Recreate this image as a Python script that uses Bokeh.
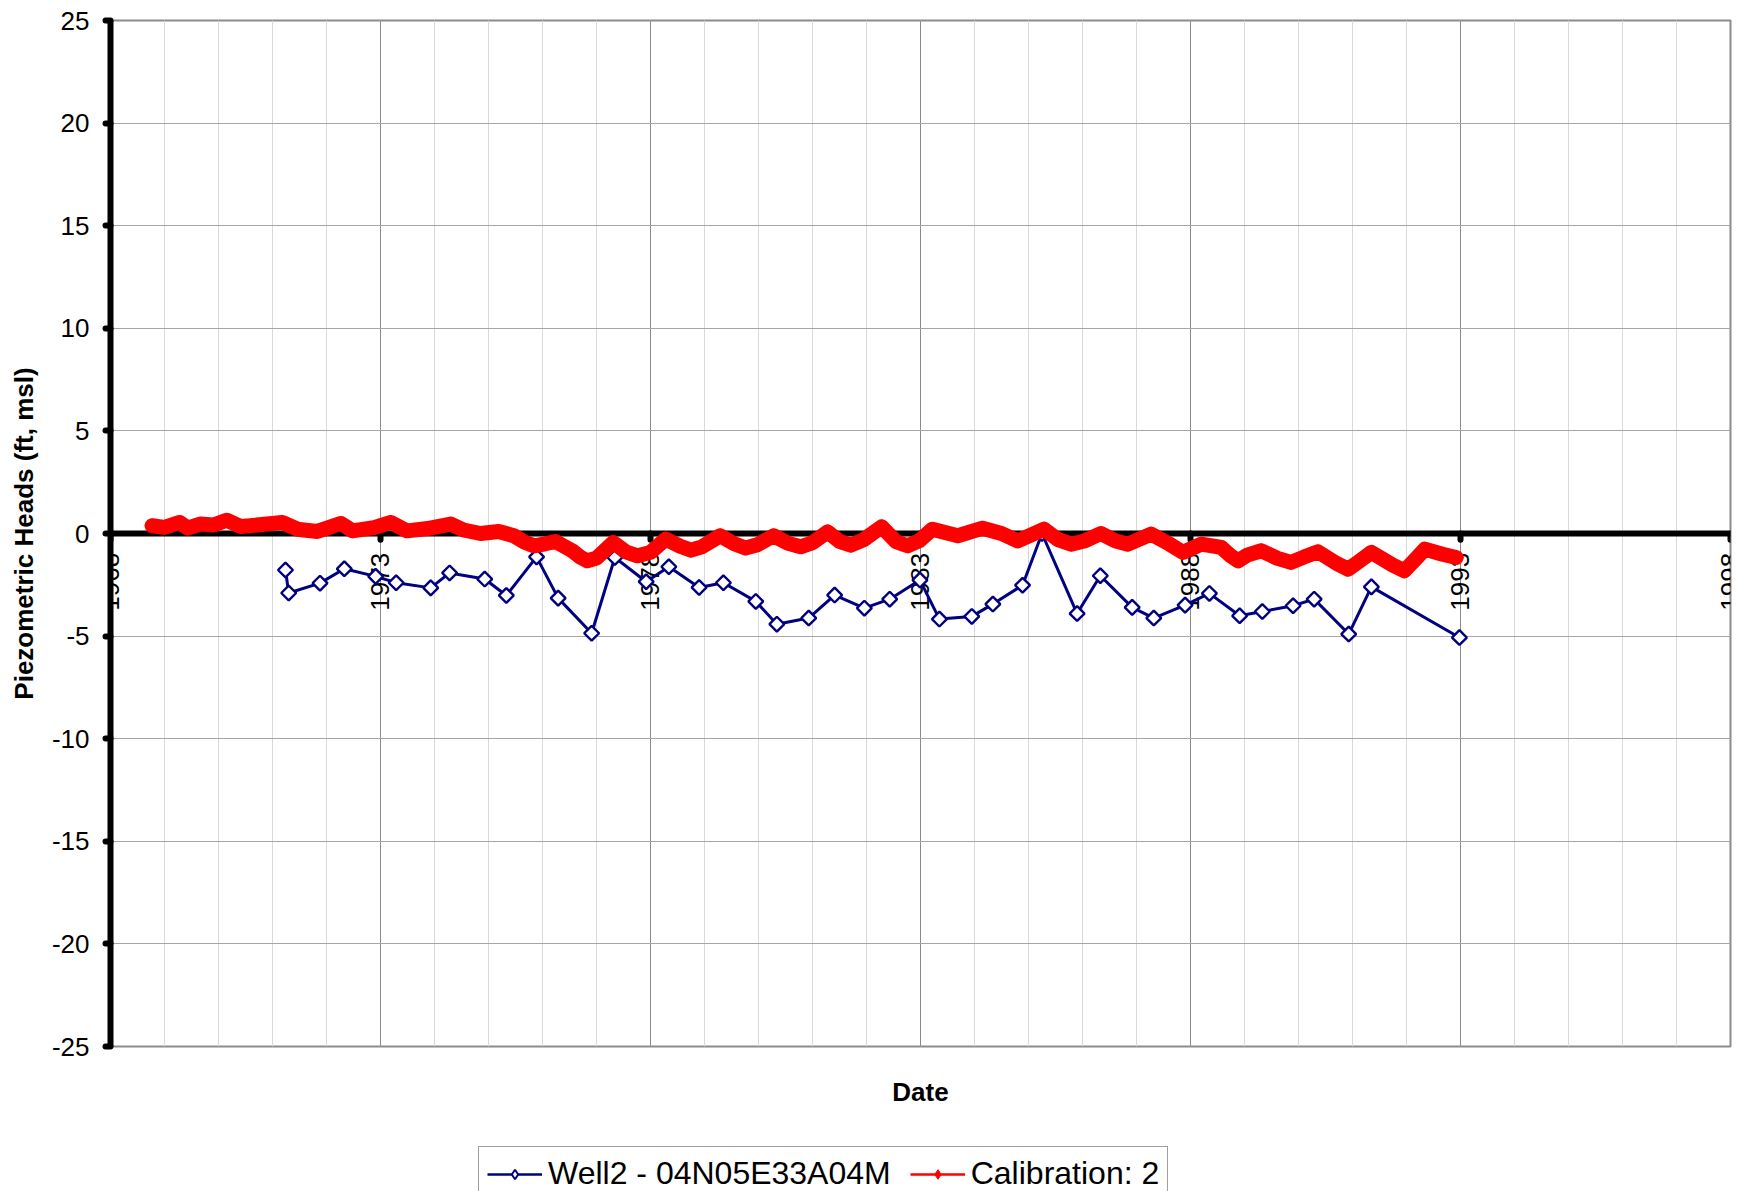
import numpy as np
from bokeh.plotting import figure
from bokeh.layouts import column
from bokeh.models import (FixedTicker, Span, Legend, LegendItem, Range1d, LabelSet,
                          ColumnDataSource)
from bokeh.core.properties import value
from bokeh.embed import file_html
from bokeh.resources import INLINE

# ---------------- data ----------------
well_years = [1971.24, 1971.30, 1971.88, 1972.33, 1972.91, 1973.29, 1973.93, 1974.28,
              1974.93, 1975.33, 1975.89, 1976.29, 1976.91, 1977.34, 1977.92, 1978.34,
              1978.90, 1979.35, 1979.95, 1980.34, 1980.93, 1981.41, 1981.96, 1982.43,
              1982.99, 1983.35, 1983.95, 1984.34, 1984.89, 1985.25, 1985.90, 1986.33,
              1986.92, 1987.32, 1987.90, 1988.35, 1988.91, 1989.33, 1989.90, 1990.29,
              1990.93, 1991.35, 1992.98]
well_heads = [-1.78, -2.90, -2.42, -1.72, -2.09, -2.40, -2.65, -1.92,
              -2.22, -3.02, -1.14, -3.15, -4.86, -1.17, -2.35, -1.62,
              -2.63, -2.40, -3.31, -4.42, -4.12, -3.00, -3.64, -3.20,
              -2.27, -4.17, -4.04, -3.44, -2.52, 0.00, -3.90, -2.06,
              -3.60, -4.12, -3.49, -2.92, -4.01, -3.80, -3.52, -3.20,
              -4.90, -2.60, -5.07]

cal_years = [1968.77, 1969.00, 1969.28, 1969.43, 1969.66, 1969.91, 1970.15, 1970.41,
             1970.71, 1971.18, 1971.46, 1971.83, 1972.27, 1972.48, 1972.88, 1973.19,
             1973.49, 1973.87, 1974.30, 1974.54, 1974.85, 1975.19, 1975.47, 1975.65,
             1975.84, 1976.05, 1976.24, 1976.55, 1976.70, 1976.83, 1977.00, 1977.31,
             1977.55, 1977.76, 1978.00, 1978.28, 1978.55, 1978.75, 1978.95, 1979.29,
             1979.55, 1979.76, 1979.98, 1980.28, 1980.55, 1980.78, 1981.00, 1981.28,
             1981.50, 1981.71, 1981.95, 1982.28, 1982.55, 1982.76, 1982.98, 1983.22,
             1983.69, 1984.15, 1984.50, 1984.80, 1985.29, 1985.55, 1985.79, 1986.05,
             1986.34, 1986.60, 1986.84, 1987.27, 1987.60, 1987.86, 1988.20, 1988.57,
             1988.75, 1988.88, 1989.05, 1989.31, 1989.60, 1989.86, 1990.10, 1990.36,
             1990.70, 1990.92, 1991.10, 1991.35, 1991.75, 1991.96, 1992.15, 1992.34,
             1992.65, 1992.92]
cal_heads = [0.38, 0.30, 0.54, 0.26, 0.46, 0.41, 0.65, 0.34,
             0.41, 0.54, 0.21, 0.10, 0.49, 0.13, 0.29, 0.54,
             0.13, 0.24, 0.46, 0.17, 0.00, 0.10, -0.11, -0.40,
             -0.60, -0.50, -0.39, -0.84, -1.15, -1.33, -1.20, -0.44,
             -0.90, -1.09, -0.92, -0.27, -0.62, -0.81, -0.65, -0.11,
             -0.50, -0.71, -0.55, -0.11, -0.48, -0.65, -0.45, 0.08,
             -0.38, -0.57, -0.30, 0.33, -0.40, -0.60, -0.35, 0.21,
             -0.11, 0.26, 0.00, -0.36, 0.21, -0.30, -0.52, -0.35,
             0.00, -0.35, -0.52, -0.03, -0.50, -0.92, -0.52, -0.68,
             -1.10, -1.33, -1.05, -0.84, -1.20, -1.41, -1.15, -0.89,
             -1.45, -1.74, -1.40, -0.92, -1.55, -1.82, -1.30, -0.76,
             -1.00, -1.17]

x_tick_years = [1968, 1973, 1978, 1983, 1988, 1993, 1998]
x_tick_labels = ["1968", "1973", "1978", "1983", "1988", "1993", "1998"]
x_minor_years = list(range(1968, 1999))
y_ticks = [-25, -20, -15, -10, -5, 0, 5, 10, 15, 20, 25]
y_tick_labels = ["-25", "-20", "-15", "-10", "-5", "0", "5", "10", "15", "20", "25"]

well_label = "Well2 - 04N05E33A04M"
cal_label = "Calibration: 2"

FONT = "Liberation Sans"
BLUE = "#000080"
RED = "#ff0000"

# ---------------- main figure ----------------
p = figure(width=1738, height=1144, output_backend="svg", toolbar_location=None,
           x_range=Range1d(1968, 1998), y_range=Range1d(-25, 25),
           min_border_left=110, min_border_right=8, min_border_top=20,
           min_border_bottom=98)
p.background_fill_color = "white"
p.border_fill_color = "white"
p.outline_line_color = "#8c8c8c"
p.outline_line_width = 2

# grids
p.xgrid.ticker = FixedTicker(ticks=x_tick_years, minor_ticks=x_minor_years)
p.xgrid.grid_line_color = "#8a8a8a"
p.xgrid.grid_line_width = 1
p.xgrid.minor_grid_line_color = "#d9d9d9"
p.xgrid.minor_grid_line_width = 1
p.ygrid.ticker = FixedTicker(ticks=y_ticks)
p.ygrid.grid_line_color = "#a6a6a6"
p.ygrid.grid_line_width = 1

# bottom axis: only the title
xa = p.xaxis[0]
xa.ticker = FixedTicker(ticks=[])
xa.axis_line_color = None
xa.major_tick_line_color = None
xa.minor_tick_line_color = None
xa.axis_label = "Date"
xa.axis_label_text_font = FONT
xa.axis_label_text_font_size = "26px"
xa.axis_label_text_font_style = "bold"
xa.axis_label_text_color = "black"
xa.axis_label_standoff = 30

# left axis
ya = p.yaxis[0]
ya.ticker = FixedTicker(ticks=y_ticks)
ya.major_label_overrides = dict(zip(y_ticks, y_tick_labels))
ya.axis_line_color = "black"
ya.axis_line_width = 6
ya.major_tick_line_color = "black"
ya.major_tick_line_width = 6
ya.major_tick_line_cap = "round"
ya.major_tick_out = 5
ya.major_tick_in = 0
ya.minor_tick_line_color = None
ya.major_label_text_font = FONT
ya.major_label_text_font_size = "26px"
ya.major_label_text_color = "black"
ya.major_label_standoff = 16
ya.axis_label = "Piezometric Heads (ft, msl)"
ya.axis_label_text_font = FONT
ya.axis_label_text_font_size = "26px"
ya.axis_label_text_font_style = "bold"
ya.axis_label_text_color = "black"
ya.axis_label_standoff = 10

# x axis line at zero, with its ticks and labels
zero_line = Span(location=0, dimension="width", line_color="black", line_width=6,
                 level="underlay")
p.add_layout(zero_line)
p.segment(x0=x_tick_years, y0=[0] * len(x_tick_years), x1=x_tick_years,
          y1=[-0.3] * len(x_tick_years), line_color="black", line_width=6,
          line_cap="round")
tick_src = ColumnDataSource(dict(x=x_tick_years, y=[-0.94] * len(x_tick_years),
                                 t=x_tick_labels))
tick_labels = LabelSet(x="x", y="y", text="t", source=tick_src, angle=np.pi / 2,
                       text_align="right", text_baseline="middle",
                       text_font=value(FONT), text_font_size="26px",
                       text_color="black", level="underlay")
p.add_layout(tick_labels)

# well series
p.line(well_years, well_heads, line_color=BLUE, line_width=3)
p.scatter(well_years, well_heads, marker="square", angle=np.pi / 4,
          size=10.5, fill_color="white", line_color=BLUE, line_width=2.4)

# calibration series (dense markers forming a thick band)
p.line(cal_years, cal_heads, line_color=RED, line_width=15,
       line_join="round", line_cap="round")
p.scatter(cal_years, cal_heads, marker="square", angle=np.pi / 4,
          size=10, fill_color=RED, line_color=RED, line_width=1)

# ---------------- legend strip (same frame borders as the main figure) ----------------
lg = figure(width=1738, height=47, output_backend="svg", toolbar_location=None,
            x_range=Range1d(1968, 1998), y_range=Range1d(100, 101),
            min_border_left=110, min_border_right=8, min_border_top=0,
            min_border_bottom=0)
lg.axis.visible = False
lg.grid.visible = False
lg.outline_line_color = None
lg.background_fill_color = "white"
lg.border_fill_color = "white"

# the series again, outside this strip's visible range: only their legend glyphs show
lw_line = lg.line(well_years, well_heads, line_color=BLUE, line_width=2.5)
lw_pts = lg.scatter(well_years, well_heads, marker="diamond",
                    size=15, fill_color="white", line_color=BLUE, line_width=2)
lc_line = lg.line(cal_years, cal_heads, line_color=RED, line_width=2.5)
lc_pts = lg.scatter(cal_years, cal_heads, marker="diamond",
                    size=15, fill_color=RED, line_color=RED, line_width=1)

legend = Legend(items=[LegendItem(label=well_label, renderers=[lw_line, lw_pts]),
                       LegendItem(label=cal_label, renderers=[lc_line, lc_pts])],
                location=(368, -10), orientation="horizontal",
                label_text_font=FONT, label_text_font_size="32px",
                label_text_color="black", glyph_width=55, glyph_height=24,
                label_standoff=6, spacing=19, padding=8, margin=0,
                border_line_color="#404040", border_line_width=1.5,
                background_fill_color="white", background_fill_alpha=1.0)
lg.add_layout(legend, "center")

layout = column(p, lg, spacing=0)
open("out.html", "w").write(file_html(layout, INLINE))
